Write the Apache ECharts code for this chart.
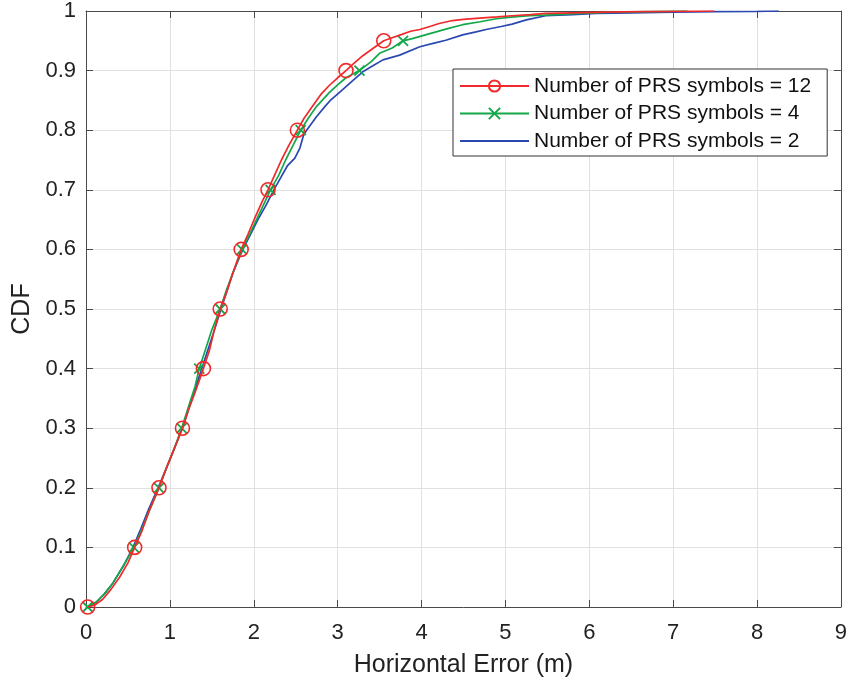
<!DOCTYPE html>
<html>
<head>
<meta charset="utf-8">
<script src="https://cdn.jsdelivr.net/npm/echarts@6/dist/echarts.min.js"></script>
<style>
html,body{margin:0;padding:0;background:#fff;}
#c{width:850px;height:683px;}
</style>
</head>
<body>
<div id="c"></div>
<script>
var seriesNames = ['Number of PRS symbols = 12', 'Number of PRS symbols = 4', 'Number of PRS symbols = 2'];
var xTicks = [0,1,2,3,4,5,6,7,8,9];
var markerLevels = [0,0.1,0.2,0.3,0.4,0.5,0.6,0.7,0.8,0.9,0.95];

var redX = [0.02,0.1,0.2,0.3,0.4,0.5,0.58,0.66,0.75,0.87,0.95,1.05,1.15,1.22,1.3,1.4,1.47,1.53,1.6,1.68,1.75,1.85,1.93,2.02,2.1,2.17,2.25,2.33,2.42,2.52,2.6,2.7,2.8,2.9,3.0,3.1,3.2,3.3,3.42,3.55,3.65,3.75,3.87,3.98,4.1,4.21,4.37,4.5,4.69,4.9,5.08,5.3,5.48,5.8,6.2,6.6,7.0,7.49];
var redY = [0,0.003,0.013,0.03,0.05,0.074,0.1,0.125,0.16,0.2,0.23,0.265,0.3,0.33,0.36,0.4,0.43,0.465,0.5,0.53,0.56,0.6,0.625,0.655,0.68,0.7,0.725,0.75,0.775,0.8,0.82,0.84,0.86,0.875,0.888,0.9,0.913,0.925,0.937,0.95,0.955,0.96,0.966,0.969,0.974,0.979,0.984,0.986,0.988,0.99,0.992,0.994,0.996,0.997,0.998,0.999,0.9995,1];

var greenX = [0.02,0.12,0.22,0.32,0.45,0.57,0.65,0.75,0.87,0.95,1.05,1.14,1.22,1.3,1.35,1.42,1.5,1.6,1.67,1.75,1.86,1.95,2.05,2.2,2.3,2.38,2.47,2.56,2.65,2.75,2.9,3.0,3.1,3.26,3.4,3.5,3.65,3.78,3.9,4.1,4.3,4.49,4.7,4.89,5.1,5.29,5.6,5.88,6.3,6.7,7.17];
var greenY = [0,0.008,0.022,0.04,0.07,0.1,0.125,0.16,0.2,0.23,0.265,0.3,0.335,0.37,0.4,0.43,0.465,0.5,0.53,0.56,0.6,0.625,0.655,0.7,0.725,0.75,0.775,0.8,0.82,0.84,0.863,0.876,0.888,0.9,0.915,0.929,0.938,0.95,0.954,0.962,0.97,0.977,0.982,0.987,0.99,0.992,0.994,0.996,0.998,0.999,1];

var blueX = [0.02,0.12,0.22,0.32,0.45,0.56,0.65,0.75,0.86,0.95,1.05,1.15,1.22,1.3,1.38,1.45,1.52,1.61,1.68,1.75,1.87,1.96,2.05,2.15,2.24,2.32,2.4,2.49,2.55,2.59,2.63,2.75,2.85,2.92,3.05,3.18,3.3,3.42,3.54,3.74,3.98,4.15,4.29,4.49,4.65,4.77,4.95,5.08,5.25,5.48,5.8,6.08,6.5,7.0,7.5,8.0,8.26];
var blueY = [0,0.008,0.022,0.04,0.07,0.1,0.13,0.165,0.2,0.23,0.265,0.3,0.33,0.365,0.4,0.43,0.46,0.5,0.53,0.56,0.6,0.625,0.65,0.675,0.7,0.72,0.74,0.753,0.77,0.79,0.8,0.823,0.84,0.851,0.867,0.883,0.898,0.908,0.918,0.926,0.94,0.946,0.951,0.96,0.965,0.969,0.974,0.978,0.985,0.992,0.994,0.996,0.997,0.998,0.999,0.9995,1];

var colors = ['#f02a2a', '#12a84a', '#2a48b0'];
var FONT = '"Liberation Sans", Arial, Helvetica, sans-serif';
var crossPath = 'path://M0,0L10,10M10,0L0,10';

function build(xs, ys, useMarkers) {
  var out = [];
  for (var i = 0; i < xs.length; i++) {
    var isMark = useMarkers && markerLevels.indexOf(ys[i]) >= 0;
    if (isMark) out.push({value: [xs[i], ys[i]]});
    else out.push({value: [xs[i], ys[i]], symbol: 'none'});
  }
  return out;
}

var chart = echarts.init(document.getElementById('c'), null, {renderer: 'canvas'});
var axisLineStyle = {color: '#4a4a4a', width: 1};
chart.setOption({
  animation: false,
  backgroundColor: '#ffffff',
  grid: {left: 86, right: 8, top: 11, bottom: 75, containLabel: false},
  legend: {
    orient: 'vertical',
    left: 453, top: 69,
    padding: [6, 16, 4, 6],
    itemGap: 5.5,
    itemWidth: 69, itemHeight: 14,
    borderColor: '#333', borderWidth: 1,
    backgroundColor: '#fff',
    textStyle: {fontFamily: FONT, fontSize: 21, color: '#111', lineHeight: 22},
    data: [
      {name: seriesNames[0]},
      {name: seriesNames[1]},
      {name: seriesNames[2], itemStyle: {opacity: 0}}
    ]
  },
  xAxis: [{
    type: 'value', min: 0, max: 9, interval: 1,
    name: 'Horizontal Error (m)', nameLocation: 'middle', nameGap: 46,
    nameTextStyle: {fontFamily: FONT, fontSize: 25, color: '#222'},
    axisLine: {show: true, onZero: false, lineStyle: axisLineStyle},
    axisTick: {show: true, inside: true, length: 7, lineStyle: axisLineStyle},
    axisLabel: {fontFamily: FONT, fontSize: 22, color: '#222', margin: 15,
      formatter: function (v) { return xTicks.indexOf(v) >= 0 ? String(v) : ''; }},
    splitLine: {show: true, lineStyle: {color: '#e0e0e0', width: 1}}
  }, {
    type: 'value', min: 0, max: 9, interval: 1, position: 'top',
    axisLine: {show: true, onZero: false, lineStyle: axisLineStyle},
    axisTick: {show: true, inside: true, length: 7, lineStyle: axisLineStyle},
    axisLabel: {show: false}, splitLine: {show: false}
  }],
  yAxis: [{
    type: 'value', min: 0, max: 1, interval: 0.1,
    name: 'CDF', nameLocation: 'middle', nameGap: 51,
    nameTextStyle: {fontFamily: FONT, fontSize: 25, color: '#222'},
    axisLine: {show: true, onZero: false, lineStyle: axisLineStyle},
    axisTick: {show: true, inside: true, length: 7, lineStyle: axisLineStyle},
    axisLabel: {fontFamily: FONT, fontSize: 22, color: '#222', margin: 10},
    splitLine: {show: true, lineStyle: {color: '#e0e0e0', width: 1}}
  }, {
    type: 'value', min: 0, max: 1, interval: 0.1, position: 'right',
    axisLine: {show: true, onZero: false, lineStyle: axisLineStyle},
    axisTick: {show: true, inside: true, length: 7, lineStyle: axisLineStyle},
    axisLabel: {show: false}, splitLine: {show: false}
  }],
  series: [{
    name: seriesNames[2], type: 'line', z: 2,
    data: build(blueX, blueY, false),
    symbol: 'none', showSymbol: false,
    lineStyle: {color: colors[2], width: 1.7},
    itemStyle: {color: colors[2]}
  }, {
    name: seriesNames[1], type: 'line', z: 3,
    data: build(greenX, greenY, true),
    symbol: crossPath, symbolSize: 10, showSymbol: true, showAllSymbol: true,
    lineStyle: {color: colors[1], width: 1.7},
    itemStyle: {color: 'rgba(0,0,0,0)', borderColor: colors[1], borderWidth: 1.8}
  }, {
    name: seriesNames[0], type: 'line', z: 4,
    data: build(redX, redY, true),
    symbol: 'circle', symbolSize: 14, showSymbol: true, showAllSymbol: true,
    lineStyle: {color: colors[0], width: 1.7},
    itemStyle: {color: 'rgba(0,0,0,0)', borderColor: colors[0], borderWidth: 1.6}
  }]
});
</script>
</body>
</html>
